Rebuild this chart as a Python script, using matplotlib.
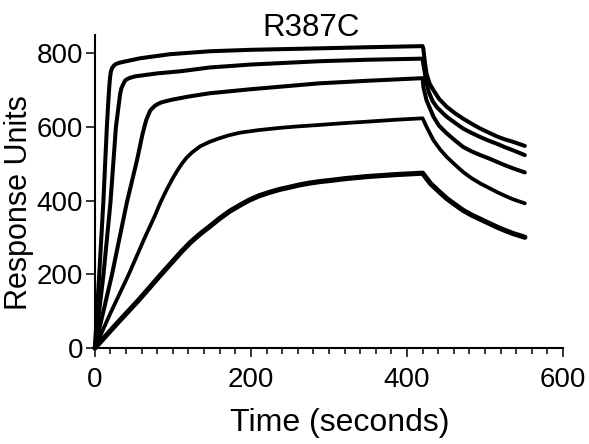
import matplotlib
matplotlib.use("Agg")
import matplotlib.pyplot as plt
from matplotlib.ticker import MultipleLocator

plt.rcParams['font.family'] = ['Liberation Sans', 'DejaVu Sans']

# sensorgram traces (time in s, response units)
t1 = [0, 5.6, 11, 15.4, 17, 18.5, 19.5, 20.5, 22, 24, 26, 30, 38, 58, 96, 147, 200, 288, 350, 420,
      421, 423, 425, 429, 434, 441, 451, 462, 472, 483, 494, 505, 515, 525, 536, 551]
r1 = [0, 198, 400, 600, 660, 710, 735, 750, 760, 766, 770, 774, 778, 787, 798, 806, 810, 814, 817, 820,
      812, 775, 745, 718, 700, 677, 655, 637, 623, 609, 596, 585, 575, 567, 560, 549]

t2 = [0, 11, 20, 27, 30, 32.5, 34, 36, 39, 42, 45, 52, 80, 111, 147, 200, 288, 350, 420,
      421, 423, 425, 428, 433, 438, 445, 451, 462, 472, 483, 494, 505, 515, 525, 536, 551]
r2 = [0, 198, 395, 600, 650, 691, 705, 715, 727, 731, 734, 738, 746, 752, 762, 770, 779, 783, 786,
      770, 745, 720, 695, 670, 655, 640, 628, 611, 596, 584, 573, 563, 555, 546, 537, 524]

t3 = [0, 22, 41, 54, 58, 61, 64, 66, 68.5, 71, 74, 77, 81, 85, 92, 100, 120, 147, 200, 288, 350, 420,
      421, 425, 430, 434, 441, 451, 462, 472, 483, 494, 505, 515, 525, 536, 551]
r3 = [0, 200, 395, 510, 550, 580, 605, 620, 633, 645, 652, 658, 663, 667, 671, 675, 683, 692, 703, 719, 726, 733,
      709, 673, 648, 628, 604, 583, 563, 546, 534, 524, 515, 506, 497, 488, 477]

t4 = [0, 20, 43, 64, 76, 84, 92, 99, 106, 112, 118, 125, 135, 147, 160, 172, 186, 210, 237, 260, 288, 320,
      350, 385, 420,
      425, 434, 443, 451, 462, 472, 483, 494, 505, 515, 525, 536, 551]
r4 = [0, 95, 198, 300, 355, 395, 430, 458, 483, 502, 518, 532, 548, 560, 570, 578, 585, 592, 598, 602, 606, 611,
      615, 620, 624,
      601, 564, 538, 519, 497, 478, 461, 447, 435, 424, 414, 404, 393]

t5 = [0, 28, 56, 84, 111, 123, 135, 147, 160, 173, 186, 198, 211, 224, 237, 250, 262, 275, 288, 305, 320,
      335, 350, 385, 420,
      430, 441, 451, 462, 472, 483, 494, 505, 515, 525, 536, 551]
r5 = [0, 66, 130, 198, 262, 288, 310, 330, 352, 372, 388, 402, 414, 423, 431, 437, 443, 448, 452, 456, 460,
      463, 466, 471, 475,
      447, 425, 406, 389, 374, 361, 350, 339, 329, 320, 311, 301]

fig = plt.figure(figsize=(5.89, 4.44), dpi=100)
ax = fig.add_axes([0.161, 0.216, 0.795, 0.705])

for t, r, lw in [(t1, r1, 2.9), (t2, r2, 2.9), (t3, r3, 2.9), (t4, r4, 2.7), (t5, r5, 3.7)]:
    ax.plot(t, r, color='black', lw=lw, solid_capstyle='round', solid_joinstyle='round',
            clip_on=False)

ax.set_xlim(0, 600)
ax.set_ylim(0, 850)
ax.set_xticks([0, 200, 400, 600])
ax.set_yticks([0, 200, 400, 600, 800])
ax.xaxis.set_minor_locator(MultipleLocator(20))

for side in ['top', 'right']:
    ax.spines[side].set_visible(False)
for side in ['left', 'bottom']:
    ax.spines[side].set_linewidth(1.5)

ax.tick_params(axis='both', which='major', direction='out', length=6.5, width=1.1,
               labelsize=20)
ax.tick_params(axis='x', which='major', pad=7)
ax.tick_params(axis='y', which='major', pad=2)
ax.tick_params(axis='x', which='minor', direction='out', length=4.3, width=1.1)

ax.set_xlabel('Time (seconds)', fontsize=23)
ax.set_ylabel('Response Units', fontsize=22)
ax.xaxis.set_label_coords(0.5 - (329 - 340) / 468, -0.19)
ax.yaxis.set_label_coords(-0.13, 0.466)

fig.text(0.528, 0.919, 'R387C', fontsize=22.5, ha='center', va='baseline')

fig.savefig('out.png', dpi=100)
